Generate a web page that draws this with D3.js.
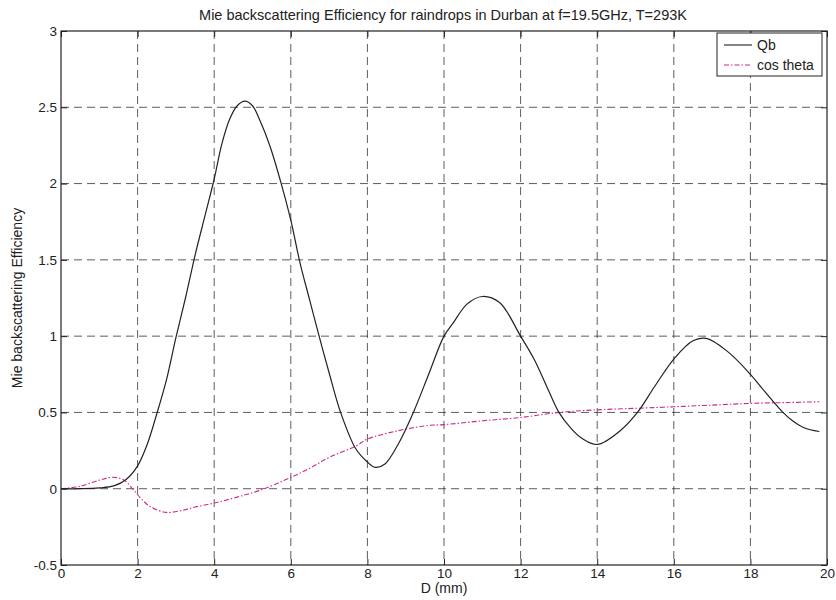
<!DOCTYPE html>
<html>
<head>
<meta charset="utf-8">
<script src="https://cdn.jsdelivr.net/npm/d3@7"></script>
<style>
  body { margin: 0; background: #fff; }
  svg { font-family: "Liberation Sans", Arial, sans-serif; }
  .grid line { stroke: #333; stroke-width: 0.8; stroke-dasharray: 8,5; }
  .frame { fill: none; stroke: #222; stroke-width: 1.2; }
  .tick-label { font-size: 13.5px; fill: #222; }
</style>
</head>
<body>
<svg width="836" height="600"></svg>
<script>
// diameters (mm) and values
var qbD = [0, 0.5, 1.0, 1.4, 1.7, 2.0, 2.25, 2.5, 2.75, 3.0, 3.25, 3.5, 3.75, 4.0, 4.2, 4.4, 4.6, 4.8,
           5.0, 5.2, 5.45, 5.75, 6.0, 6.25, 6.5, 6.75, 7.0, 7.3, 7.7, 8.0, 8.2, 8.45, 8.8, 9.2, 9.6,
           10.0, 10.25, 10.6, 11.0, 11.45, 12.0, 12.35, 12.7, 13.0, 13.3, 13.6, 14.0, 14.6, 15.05,
           15.5, 16.0, 16.5, 16.85, 17.4, 18.0, 18.3, 18.6, 18.85, 19.1, 19.4, 19.8];
var qbVal = [0, 0, 0.005, 0.02, 0.06, 0.15, 0.29, 0.49, 0.71, 0.99, 1.25, 1.53, 1.78, 2.03, 2.26, 2.42, 2.51, 2.54,
             2.51, 2.41, 2.25, 2.0, 1.76, 1.47, 1.23, 0.99, 0.76, 0.5, 0.26, 0.175, 0.14, 0.16, 0.29, 0.5, 0.75,
             1.0, 1.09, 1.21, 1.26, 1.22, 1.0, 0.85, 0.66, 0.5, 0.4, 0.33, 0.29, 0.38, 0.5,
             0.67, 0.85, 0.97, 0.985, 0.9, 0.75, 0.66, 0.57, 0.5, 0.445, 0.4, 0.375];

var cosD = [0, 0.5, 1.0, 1.35, 1.65, 1.9, 2.15, 2.35, 2.75, 3.2, 3.5, 4.0, 4.6, 5.2, 6.0, 6.5, 7.0, 7.7,
            8.0, 8.8, 9.6, 10.0, 11.0, 12.0, 13.0, 14.0, 15.0, 16.0, 17.0, 18.0, 19.0, 19.8];
var cosVal = [0, 0.016, 0.056, 0.075, 0.056, -0.01, -0.08, -0.12, -0.155, -0.14, -0.12, -0.094, -0.055, -0.01, 0.074, 0.135, 0.205, 0.28,
              0.325, 0.38, 0.415, 0.42, 0.445, 0.467, 0.5, 0.517, 0.527, 0.537, 0.548, 0.559, 0.565, 0.57];

var xTicks = [0, 2, 4, 6, 8, 10, 12, 14, 16, 18, 20];
var yTicks = [-0.5, 0, 0.5, 1, 1.5, 2, 2.5, 3];
var seriesNames = ["Qb", "cos theta"];

var svg = d3.select("svg"),
    pLeft = 61, pRight = 827, pTop = 31, pBottom = 565;

var x = d3.scaleLinear().domain([0, 20]).range([pLeft, pRight]);
var y = d3.scaleLinear().domain([-0.5, 3]).range([pBottom, pTop]);

var qb = qbD.map(function(d, i) { return {x: d, y: qbVal[i]}; });
var cs = cosD.map(function(d, i) { return {x: d, y: cosVal[i]}; });

// grid
var grid = svg.append("g").attr("class", "grid");
grid.selectAll(".gx").data(xTicks.slice(1, -1)).enter().append("line")
    .attr("x1", function(d) { return x(d); }).attr("x2", function(d) { return x(d); })
    .attr("y1", pTop).attr("y2", pBottom);
grid.selectAll(".gy").data(yTicks.slice(1, -1)).enter().append("line")
    .attr("x1", pLeft).attr("x2", pRight)
    .attr("y1", function(d) { return y(d); }).attr("y2", function(d) { return y(d); });

// axes with inward ticks
var xAxisB = d3.axisBottom(x).tickValues(xTicks).tickSize(-6).tickPadding(3).tickFormat(d3.format("d"));
var xAxisT = d3.axisTop(x).tickValues(xTicks).tickSize(-6).tickFormat("");
var yAxisL = d3.axisLeft(y).tickValues(yTicks).tickSize(-6).tickPadding(4).tickFormat(function(d) { return String(d); });
var yAxisR = d3.axisRight(y).tickValues(yTicks).tickSize(-6).tickFormat("");

[[xAxisB, "translate(0," + pBottom + ")"], [xAxisT, "translate(0," + pTop + ")"],
 [yAxisL, "translate(" + pLeft + ",0)"], [yAxisR, "translate(" + pRight + ",0)"]].forEach(function(a) {
  var g = svg.append("g").attr("transform", a[1]).call(a[0]);
  g.select(".domain").remove();
  g.selectAll(".tick line").attr("stroke", "#222");
  g.selectAll(".tick text").attr("class", "tick-label").style("font-family", "Liberation Sans, Arial, sans-serif");
});

svg.append("rect").attr("class", "frame")
    .attr("x", pLeft).attr("y", pTop).attr("width", pRight - pLeft).attr("height", pBottom - pTop);

// curves
var line = d3.line()
    .x(function(d) { return x(d.x); })
    .y(function(d) { return y(d.y); })
    .curve(d3.curveCatmullRom.alpha(0.5));

svg.append("path").attr("d", line(cs))
    .attr("fill", "none").attr("stroke", "#cc2a88").attr("stroke-width", 1.1)
    .attr("stroke-dasharray", "5,2,1.5,2");

svg.append("path").attr("d", line(qb))
    .attr("fill", "none").attr("stroke", "#222").attr("stroke-width", 1.2);

// title and labels
svg.append("text").attr("x", (pLeft + pRight) / 2 - 1).attr("y", 20)
    .attr("text-anchor", "middle").style("font-size", "14.5px").attr("fill", "#222")
    .text("Mie backscattering Efficiency for raindrops in Durban at f=19.5GHz, T=293K");

svg.append("text").attr("x", (pLeft + pRight) / 2).attr("y", 593)
    .attr("text-anchor", "middle").style("font-size", "14px").attr("fill", "#222")
    .text("D (mm)");

svg.append("text").attr("transform", "translate(22," + (pTop + pBottom) / 2 + ") rotate(-90)")
    .attr("text-anchor", "middle").style("font-size", "14px").attr("fill", "#222")
    .text("Mie backscattering Efficiency");

// legend
var lg = svg.append("g");
lg.append("rect").attr("x", 717).attr("y", 33).attr("width", 105).attr("height", 43)
    .attr("fill", "#fff").attr("stroke", "#222").attr("stroke-width", 1);
var styles = [{stroke: "#222", dash: null}, {stroke: "#cc2a88", dash: "5,2,1.5,2"}];
seriesNames.forEach(function(name, i) {
  var yy = 45 + i * 20;
  lg.append("line").attr("x1", 724).attr("x2", 752).attr("y1", yy).attr("y2", yy)
    .attr("stroke", styles[i].stroke).attr("stroke-width", 1.1)
    .attr("stroke-dasharray", styles[i].dash);
  lg.append("text").attr("x", 757).attr("y", yy + 5)
    .style("font-size", "14px").attr("fill", "#222").text(name);
});
</script>
</body>
</html>
